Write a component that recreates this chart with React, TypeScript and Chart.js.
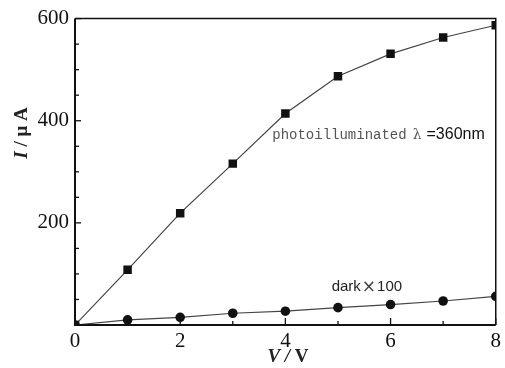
import React, { useEffect, useRef } from "react";
import { Chart, registerables } from "chart.js";

Chart.register(...registerables);

const voltages = [0, 1, 2, 3, 4, 5, 6, 7, 8];
const photoCurrent = [0, 108, 219, 316, 414, 487, 531, 563, 587];
const darkCurrentX100 = [0, 10, 15, 23, 27, 34, 40, 47, 56];
const xTicks = [0, 2, 4, 6, 8];
const yTicks = [200, 400, 600];
const photoLabel = "photoilluminated";
const photoLambda = "λ";
const photoWave = "=360nm";
const darkLabel = "dark";
const darkTimes = "×";
const darkFactor = "100";

const framePlugin = {
  id: "frame",
  afterDraw(chart: any) {
    const { ctx, chartArea } = chart;
    const { left, right, top, bottom } = chartArea;
    const xs = chart.scales.x;
    const ys = chart.scales.y;
    ctx.save();
    ctx.strokeStyle = "#111";
    ctx.lineWidth = 1.5;
    ctx.beginPath();
    ctx.moveTo(left, top);
    ctx.lineTo(right, top);
    ctx.lineTo(right, bottom);
    ctx.stroke();
    ctx.lineWidth = 2;
    ctx.beginPath();
    ctx.moveTo(left, top);
    ctx.lineTo(left, bottom);
    ctx.lineTo(right, bottom);
    ctx.stroke();
    ctx.lineWidth = 1.3;
    for (let v = 0; v <= 8; v += 1) {
      const px = xs.getPixelForValue(v);
      const len = v % 2 === 0 ? 7 : 4;
      ctx.beginPath();
      ctx.moveTo(px, bottom);
      ctx.lineTo(px, bottom - len);
      ctx.stroke();
    }
    for (let v = 0; v <= 600; v += 50) {
      const py = ys.getPixelForValue(v);
      const len = v % 200 === 0 ? 6 : 4;
      ctx.beginPath();
      ctx.moveTo(left, py);
      ctx.lineTo(left + len, py);
      ctx.stroke();
    }
    // annotations
    ctx.textBaseline = "middle";
    ctx.textAlign = "left";
    let ax = xs.getPixelForValue(3.75);
    const ay = ys.getPixelForValue(372);
    ctx.fillStyle = "#555";
    ctx.font = "14px 'Liberation Mono', monospace";
    ctx.fillText(photoLabel, ax, ay);
    ax += ctx.measureText(photoLabel).width + 6;
    ctx.font = "14px 'DejaVu Serif', serif";
    ctx.fillText(photoLambda, ax, ay);
    ax += ctx.measureText(photoLambda).width + 5;
    ctx.fillStyle = "#111";
    ctx.font = "16px 'Liberation Sans', Arial, sans-serif";
    ctx.fillText(photoWave, ax, ay);

    // dark x100
    ctx.fillStyle = "#222";
    let dx = xs.getPixelForValue(4.88);
    const dy = ys.getPixelForValue(75);
    ctx.font = "15px 'Liberation Sans', Arial, sans-serif";
    ctx.fillText(darkLabel, dx, dy);
    dx += ctx.measureText(darkLabel).width + 1;
    ctx.font = "17px 'DejaVu Sans', sans-serif";
    ctx.fillStyle = "#444";
    ctx.fillText(darkTimes, dx, dy + 1);
    dx += ctx.measureText(darkTimes).width + 1;
    ctx.fillStyle = "#222";
    ctx.font = "15px 'Liberation Sans', Arial, sans-serif";
    ctx.fillText(darkFactor, dx, dy);

    // x title: V / V
    ctx.fillStyle = "#222";
    const parts: [string, string][] = [
      ["V", "italic bold 19px 'Liberation Serif', serif"],
      [" / ", "italic bold 19px 'Liberation Serif', serif"],
      ["V", "bold 19px 'Liberation Serif', serif"],
    ];
    let total = 0;
    for (const [t, f] of parts) {
      ctx.font = f;
      total += ctx.measureText(t).width;
    }
    let tx = 288 - total / 2;
    for (const [t, f] of parts) {
      ctx.font = f;
      ctx.fillText(t, tx, 357);
      tx += ctx.measureText(t).width;
    }

    // y title: I / μ A rotated
    ctx.save();
    ctx.translate(22, 133);
    ctx.rotate(-Math.PI / 2);
    const yparts: [string, string][] = [
      ["I", "italic bold 19px 'Liberation Serif', serif"],
      [" / ", "bold 19px 'Liberation Serif', serif"],
      ["μ A", "bold 19px 'Liberation Serif', serif"],
    ];
    total = 0;
    for (const [t, f] of yparts) {
      ctx.font = f;
      total += ctx.measureText(t).width;
    }
    tx = -total / 2;
    for (const [t, f] of yparts) {
      ctx.font = f;
      ctx.fillText(t, tx, 0);
      tx += ctx.measureText(t).width;
    }
    ctx.restore();
    ctx.restore();
  },
};

export default function App() {
  const ref = useRef<HTMLCanvasElement | null>(null);
  useEffect(() => {
    document.body.style.margin = "0";
    const canvas = ref.current;
    if (!canvas) return;
    const chart = new Chart(canvas, {
      type: "line",
      data: {
        datasets: [
          {
            label: "photo",
            data: voltages.map((v, i) => ({ x: v, y: photoCurrent[i] })),
            borderColor: "#444",
            borderWidth: 1.2,
            pointStyle: "rect",
            pointRadius: 6,
            pointBackgroundColor: "#111",
            pointBorderColor: "#111",
            pointBorderWidth: 0,
            tension: 0,
          },
          {
            label: "dark",
            data: voltages.map((v, i) => ({ x: v, y: darkCurrentX100[i] })),
            borderColor: "#444",
            borderWidth: 1.2,
            pointStyle: "circle",
            pointRadius: 4.8,
            pointBackgroundColor: "#111",
            pointBorderColor: "#111",
            pointBorderWidth: 0,
            tension: 0,
          },
        ],
      },
      options: {
        responsive: false,
        animation: false,
        events: [],
        layout: { padding: { top: 15, right: 8, left: 0, bottom: 0 } },
        plugins: { legend: { display: false }, tooltip: { enabled: false } },
        scales: {
          x: {
            type: "linear",
            min: 0,
            max: 8,
            grid: { display: false, drawTicks: false },
            border: { display: false },
            afterBuildTicks: (s: any) => {
              s.ticks = xTicks.map((v) => ({ value: v }));
            },
            afterFit: (s: any) => {
              s.height = 43;
            },
            ticks: {
              padding: 4,
              color: "#111",
              font: { family: "'Liberation Serif', serif", size: 21 },
              maxRotation: 0,
            },
          },
          y: {
            type: "linear",
            min: 0,
            max: 600,
            grid: { display: false, drawTicks: false },
            border: { display: false },
            afterBuildTicks: (s: any) => {
              s.ticks = yTicks.map((v) => ({ value: v }));
            },
            afterFit: (s: any) => {
              s.width = 75;
            },
            ticks: {
              padding: 6,
              color: "#111",
              font: { family: "'Liberation Serif', serif", size: 21 },
            },
          },
        },
      },
      plugins: [framePlugin],
    } as any);
    return () => chart.destroy();
  }, []);
  return <canvas ref={ref} width={505} height={368} style={{ display: "block" }} />;
}
